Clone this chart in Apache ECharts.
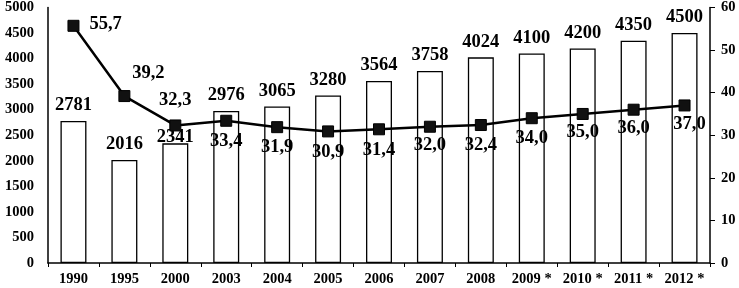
<!DOCTYPE html>
<html><head><meta charset="utf-8">
<script src="https://cdn.jsdelivr.net/npm/echarts@6/dist/echarts.min.js"></script>
<style>html,body{margin:0;padding:0;background:#fff}#c{width:739px;height:288px}</style>
</head><body><div id="c"></div>
<script>
const categories = ['1990','1995','2000','2003','2004','2005','2006','2007','2008','2009 *','2010 *','2011 *','2012 *'];
const barValues = [2781,2016,2341,2976,3065,3280,3564,3758,4024,4100,4200,4350,4500];
const lineValues = [55.7,39.2,32.3,33.4,31.9,30.9,31.4,32.0,32.4,34.0,35.0,36.0,37.0];
const leftTicks = [0,500,1000,1500,2000,2500,3000,3500,4000,4500,5000];
const rightTicks = [0,10,20,30,40,50,60];

const FONT = 'Liberation Serif';
const fmt = v => v.toFixed(1).replace('.', ',');

const linePos = [
  {position:'right', distance:10, offset:[0,-2]},
  {position:'top', offset:[24,-2]},
  {position:'top', distance:10},
  {position:'bottom', distance:5},
  {position:'bottom', distance:5},
  {position:'bottom', distance:5},
  {position:'bottom', distance:5},
  {position:'bottom', distance:3},
  {position:'bottom', distance:5},
  {position:'bottom', distance:5},
  {position:'bottom', distance:3},
  {position:'bottom', distance:3},
  {position:'bottom', distance:3, offset:[5,0]}
];
const barPos = barValues.map((v,i)=> i===2 ? {position:'top', distance:-3} : {position:'top', distance:6});

const chart = echarts.init(document.getElementById('c'));
chart.setOption({
  animation:false,
  backgroundColor:'#fff',
  grid:{left:48, right:29, top:6, bottom:25},
  xAxis:{
    type:'category', data:categories, boundaryGap:true,
    axisLine:{lineStyle:{color:'#000', width:1.5}},
    axisTick:{show:true, alignWithLabel:false, length:4, lineStyle:{color:'#000'}},
    axisLabel:{color:'#000', fontFamily:FONT, fontWeight:'bold', fontSize:14.5, margin:9, interval:0}
  },
  yAxis:[{
    type:'value', min:0, max:5000, interval:500,
    axisLine:{show:true, lineStyle:{color:'#000', width:1.5}},
    axisTick:{show:false},
    splitLine:{show:false},
    axisLabel:{color:'#000', fontFamily:FONT, fontWeight:'bold', fontSize:14.5, margin:14, formatter:v=>String(v)}
  },{
    type:'value', min:0, max:60, interval:10, position:'right',
    axisLine:{show:true, lineStyle:{color:'#000', width:1.5}},
    axisTick:{show:true, length:5, lineStyle:{color:'#000'}},
    splitLine:{show:false},
    axisLabel:{color:'#000', fontFamily:FONT, fontWeight:'bold', fontSize:14.5, margin:11, formatter:v=>String(v)}
  }],
  series:[{
    type:'bar', yAxisIndex:0, barWidth:'51%',
    data: barValues.map((v,i)=>({value:v, label:barPos[i]})),
    itemStyle:{color:'#fff', borderColor:'#000', borderWidth:1.3},
    label:{show:true, color:'#000', fontFamily:FONT, fontWeight:'bold', fontSize:18.5},
    z:1
  },{
    type:'line', yAxisIndex:1,
    data: lineValues.map((v,i)=>({value:v, label:linePos[i]})),
    symbol:'rect', symbolSize:11,
    lineStyle:{color:'#000', width:2.5},
    itemStyle:{color:'#111', borderColor:'#000'},
    label:{show:true, color:'#000', fontFamily:FONT, fontWeight:'bold', fontSize:18.5, formatter:p=>fmt(p.value)},
    z:3
  }]
});
</script></body></html>
